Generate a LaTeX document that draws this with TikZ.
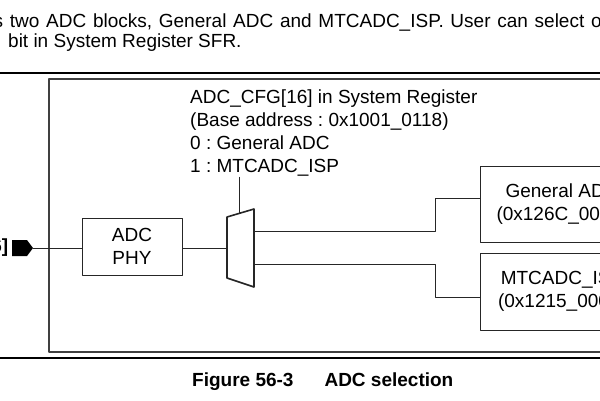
\documentclass[tikz,border=0pt]{standalone}
\usepackage{fontspec}
\setmainfont{Liberation Sans}
\usepackage{tikz}
\frenchspacing

\begin{document}
\begin{tikzpicture}[line cap=round,line join=round,x=1pt,y=-1pt,
  txt/.style={inner sep=0pt,font=\fontsize{19}{23}\selectfont},
  blk/.style={txt,draw=black!85,line width=0.9pt,align=center},
  wire/.style={draw=black!85,line width=0.9pt}]
\useasboundingbox (0,0) rectangle (600,400);
\clip (0,0) rectangle (600,400);
% text of the page
\node[txt,anchor=base west] (para1) at (-6.5,27) {\makebox[608pt][s]{s two ADC blocks, General ADC and MTCADC\_ISP. User can select o}};
\node[txt,anchor=base west] (para2) at (8,47) {bit in System Register SFR.};
\draw [line width=2pt] (0,73) -- (600,73);
\draw [line width=2pt] (0,357.5) -- (600,357.5);
\draw [black!75,line width=1.3pt] (610,79) -- (49,79) -- (49,352) -- (610,352);
% blocks
\node[blk,minimum width=100pt,minimum height=57pt] (phy) at (132,246.5) {ADC\\PHY};
\node[blk,minimum width=164pt,minimum height=76pt] (gen) at (562,204) {General ADC\\(0x126C\_0000)};
\node[blk,minimum width=164pt,minimum height=77pt] (mtc) at (562,291.5) {MTCADC\_ISP\\(0x1215\_0000)};
\node[txt,align=left,anchor=north west] (cfg) at (190,90) {ADC\_CFG[16] in System Register\\(Base address : 0x1001\_0118)\\0 : General ADC\\1 : MTCADC\_ISP};
% mux
\draw [black!85,line width=1.6pt] (227,217) -- (254,209) -- (254,287) -- (227,278) -- cycle;
\coordinate (muxin) at (227,248);
\coordinate (muxa) at (254,231);
\coordinate (muxb) at (254,264);
\coordinate (muxsel) at (239,213.4);
% input pin
\fill (12,240) -- (27,240) -- (33,248) -- (27,256) -- (12,256) -- cycle;
\coordinate (pin) at (33,248);
\node[txt,font=\fontsize{19}{23}\selectfont\bfseries,anchor=east] (pinname) at (8.5,248) {6]};
% wires
\draw [wire] (pin) -- (phy.west |- pin);
\draw [wire] (phy.east |- muxin) -- (muxin);
\draw [wire] (muxsel) -- ++(0,-36);
\draw [wire] (muxa) -- (435,231) |- ([yshift=6pt]gen.west);
\draw [wire] (muxb) -- (435,264) |- ([yshift=-5.5pt]mtc.west);
% caption
\node[txt,font=\fontsize{19}{23}\selectfont\bfseries,anchor=base west] (caption) at (192,386) {Figure 56-3\hspace{31pt}ADC selection};
\end{tikzpicture}
\end{document}
